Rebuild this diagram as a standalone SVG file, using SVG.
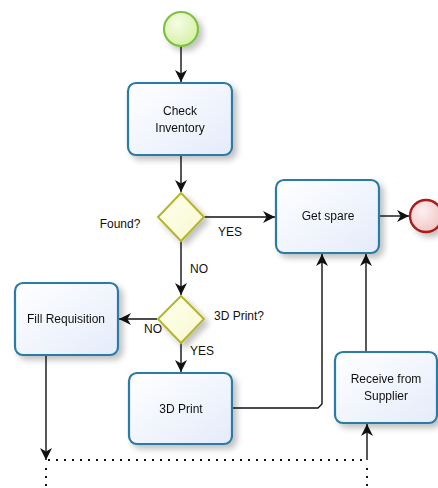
<svg xmlns="http://www.w3.org/2000/svg" width="438" height="488" viewBox="0 0 438 488">
<style>
text{font-family:"Liberation Sans","DejaVu Sans",sans-serif;font-size:12px;fill:#111}
.c{text-anchor:middle}
.task{fill:url(#gTask);stroke:#2b7ba6;stroke-width:2.2}
.gw{fill:url(#gGw);stroke:#b5b52b;stroke-width:2}
.ln{fill:none;stroke:#111;stroke-width:1.4}
.dot{fill:none;stroke:#111;stroke-width:2;stroke-dasharray:2 6}
</style>
<defs>
<linearGradient id="gTask" x1="0" y1="0" x2="1" y2="1"><stop offset="0" stop-color="#ffffff"/><stop offset="1" stop-color="#e4ebfa"/></linearGradient>
<linearGradient id="gGw" x1="0" y1="0" x2="1" y2="1"><stop offset="0" stop-color="#ffffee"/><stop offset="1" stop-color="#f8f8d0"/></linearGradient>
<radialGradient id="gStart" cx="0.4" cy="0.35" r="0.7"><stop offset="0" stop-color="#f6fce6"/><stop offset="1" stop-color="#d6f0a2"/></radialGradient>
<radialGradient id="gEnd" cx="0.4" cy="0.35" r="0.7"><stop offset="0" stop-color="#fdf0f0"/><stop offset="1" stop-color="#f0c4c4"/></radialGradient>
<filter id="sh" x="-20%" y="-20%" width="150%" height="150%"><feGaussianBlur in="SourceAlpha" stdDeviation="3"/><feOffset dx="4" dy="4" result="b"/><feComponentTransfer><feFuncA type="linear" slope="0.25"/></feComponentTransfer><feMerge><feMergeNode/><feMergeNode in="SourceGraphic"/></feMerge></filter>
<marker id="ar" viewBox="0 0 10 10" refX="10" refY="5" markerWidth="12" markerHeight="12" markerUnits="userSpaceOnUse" orient="auto"><path d="M0,0 L10,5 L0,10 L3,5 Z" fill="#111"/></marker>
</defs>

<g id="connectors">
<path class="ln" d="M181,46 V82" marker-end="url(#ar)"/>
<path class="ln" d="M181,155 V192" marker-end="url(#ar)"/>
<path class="ln" d="M204,217 H275" marker-end="url(#ar)"/>
<path class="ln" d="M181,241 V295" marker-end="url(#ar)"/>
<path class="ln" d="M379,216 H409" marker-end="url(#ar)"/>
<path class="ln" d="M157,319 H119" marker-end="url(#ar)"/>
<path class="ln" d="M181,343 V372" marker-end="url(#ar)"/>
<path class="ln" d="M232,408 H318 L322,404 V254" marker-end="url(#ar)"/>
<path class="ln" d="M366,352 V254" marker-end="url(#ar)"/>
<path class="ln" d="M46,355 V460" marker-end="url(#ar)"/>
<path class="ln" d="M367,460 V424" marker-end="url(#ar)"/>
<path class="dot" d="M48,460 H367"/>
<path class="dot" d="M46,468 V488"/>
<path class="dot" d="M367,468 V488"/>
<text x="218" y="236">YES</text>
<text x="190" y="273">NO</text>
<text x="144" y="333">NO</text>
<text x="190" y="355">YES</text>
</g>

<g id="start"><circle cx="181" cy="29" r="17" fill="url(#gStart)" stroke="#7dc142" stroke-width="2.2" filter="url(#sh)"/></g>

<g id="checkInventory" filter="url(#sh)"><rect class="task" x="128" y="83" width="104" height="72" rx="8"/><text class="c" x="180" y="115">Check</text><text class="c" x="180" y="132">Inventory</text></g>

<g id="found" filter="url(#sh)"><path class="gw" d="M181,193 L204,217 L181,241 L158,217 Z"/></g>
<text x="120" y="228" class="c">Found?</text>

<g id="getSpare" filter="url(#sh)"><rect class="task" x="276" y="180" width="103" height="73" rx="8"/><text class="c" x="328" y="220">Get spare</text></g>

<g id="end"><circle cx="426" cy="216" r="16" fill="url(#gEnd)" stroke="#a81c1c" stroke-width="2.4" filter="url(#sh)"/></g>

<g id="print3dQ" filter="url(#sh)"><path class="gw" d="M181,296 L204,319 L181,343 L158,319 Z"/></g>
<text x="239" y="320" class="c">3D Print?</text>

<g id="fillRequisition" filter="url(#sh)"><rect class="task" x="15" y="283" width="103" height="72" rx="8"/><text class="c" x="66" y="323">Fill Requisition</text></g>

<g id="print3d" filter="url(#sh)"><rect class="task" x="129" y="373" width="103" height="71" rx="8"/><text class="c" x="181" y="413">3D Print</text></g>

<g id="receive" filter="url(#sh)"><rect class="task" x="335" y="352" width="102" height="71" rx="8"/><text class="c" x="386" y="383">Receive from</text><text class="c" x="386" y="400">Supplier</text></g>
</svg>
